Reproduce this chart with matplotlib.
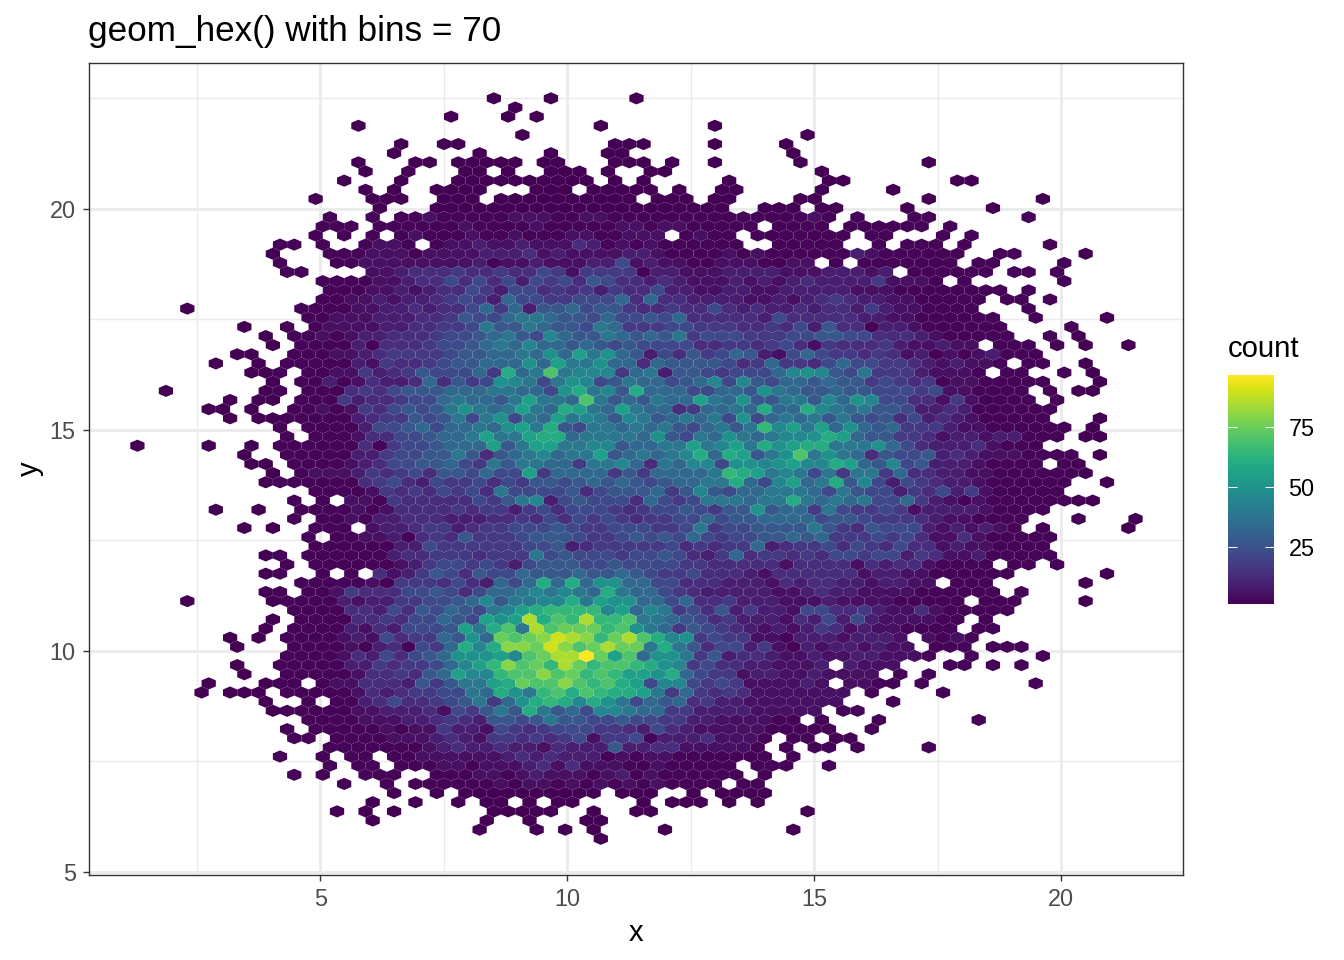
import numpy as np
import matplotlib
matplotlib.use("Agg")
import matplotlib.pyplot as plt

plt.rcParams['font.family'] = ['Liberation Sans', 'DejaVu Sans']

TITLE = "geom_hex() with bins = 70"
X_TICKS = [5, 10, 15, 20]
Y_TICKS = [5, 10, 15, 20]
X_MINOR = [2.5, 7.5, 12.5, 17.5]
Y_MINOR = [7.5, 12.5, 17.5, 22.5]
LEGEND_TICKS = [25, 50, 75]

# hexagon lattice
X_FIRST, X_STEP = 1.30, 0.2887   # centre of column 0 and column spacing
Y_TOP, Y_STEP = 22.50, 0.2068    # centre of row 0 and row spacing (going down)
COUNT_MIN, COUNT_MAX = 1, 97

# occupied columns in each hexagon row (row 0 is the top one)
OCCUPIED = [
    "25,29,35", "26", "22,26,28", "15,32,40", "27,47",
    "18,21,22,33,34,35,40,45", "18,24,29,33,34,46",
    "15,19,20,22-26,28,29,33,34,35,37,40,46,55",
    "16,19,23,24,26,29,30,31,33,36,37,48",
    "14,18,22-31,33,35,41,48,49,57,58",
    "16,18,21-24,28,29,30,32-36,38,41,42,48,53",
    "12,16,17,18,21,22,23,25-34,36,37,38,40,41,46,47,55,63",
    "17,21-41,44,45,46,48,49,54,60",
    "13,16,18-48,50,54,55,62",
    "13,14,15,17-43,45-48,50-55,57",
    "12,14,16,18-36,38-41,43-49,51,52,56,58",
    "10,11,13,16-19,21-42,45-49,52,54,55,56,58,64",
    "9,13-57,60,61,66",
    "10,14,15,16-47,49,51-57,59,60,65",
    "10,11,16-52,54-59,61,62,64",
    "13-56,58,65",
    "13-60,62",
    "13-59,61,62,64",
    "3,11-58,62",
    "12-60,63,68",
    "7,10,12-60,65",
    "9,11-61,64,66",
    "9,11-58,60,61,62,64,66,69",
    "7,8,11-63",
    "5,8,10-60,62,63,66",
    "8,9,10,12-59,61,62,65,67",
    "9,11-63,67",
    "2,9,10,12-62,64,66,67",
    "6,8,9,11-62,64",
    "5,6,8,11-64",
    "6,8-63,67",
    "10,12-65,67",
    "10,12-64,66,67",
    "0,5,8,10-63",
    "7,10-65,67",
    "8,9,11-63,65,66",
    "9,11-66",
    "9-65,68",
    "12-64",
    "11,13,15-67",
    "5,8,11-63",
    "11,13-62,66,70",
    "7,9,12,13,14,16-61,63,69",
    "12,14-64",
    "12-63",
    "9,10,12-64",
    "10,12-59,61,62,64",
    "9,10,13,15,17-61,68",
    "11-55,57,58,59,66",
    "9,10,12-60,62",
    "3,9-57,59,60,61,66",
    "11-61",
    "9,11-57,59",
    "9,11-57,59,60",
    "6,8,10-53,55-58",
    "7,11-54,56,57,58,60,61,62",
    "10-55,58,63",
    "7,10-48,50-53,57,58,60,62",
    "7,10-51,53,55",
    "5,9,10,11,13-48,50-53,55,63",
    "4,6,7,8,10-49,51,56",
    "9,12,14-49,53",
    "9-47,49,50",
    "12-46,48,52,59",
    "10,12-48,51",
    "11,12,14-44,46,47,49,50",
    "13-43,45,47,48,50,55",
    "10,13,15,16,18-44,46",
    "13,15,16,18-41,43,44,45,48",
    "11,13,16,17,18,21-42,44",
    "14,17,19-40,42,43",
    "18,21,23-32,34,35,36,39,41-44",
    "16,19,22,24,25,27,29,30,35,37,38,39,41,43",
    "14,16,18,25-29,32,35,36,47",
    "16,24,27,31,32",
    "24,28,30,32,37,46",
    "32",
]

# count level of columns 10 to 65 (base 36) per row;
# rows and columns not listed hold the smallest counts
LEVEL_FIRST_COLUMN = 10
COUNT_OF_LEVEL = [2, 5, 9, 13, 17, 22, 27, 33, 39, 45, 50, 55, 60, 65, 70, 75, 80, 85, 90, 97]
LEVELS = {
    13: "0000000000 1000001110 0110000000 0000000100 0000000000 000000",
    14: "0000000000 0001000010 0000110110 0000000000 0000000000 000000",
    15: "0000000001 0001001000 1100111001 0000000000 0000000000 000000",
    16: "0000000110 1011211211 1320101000 0000000000 0000000000 000000",
    17: "0000001110 1111222312 1111221000 0101000000 2100000000 000000",
    18: "0000001111 1111201121 1122512110 0111001100 0000000000 000000",
    19: "0000001123 3343343354 1444402211 1222211122 2120000000 000000",
    20: "0000000112 3353535254 5365332321 1121212322 2241110000 000000",
    21: "0000001121 2335425534 3424335221 1221122222 1110000000 000000",
    22: "0000011212 2345427554 4555737332 2221121234 3221100000 000000",
    23: "0000011223 2335747266 7566433433 5323223233 2421100000 000000",
    24: "0000111222 3346557887 6657556573 3333253333 3221100000 000000",
    25: "0001111223 3445866876 6587444554 4433435263 3022100000 000000",
    26: "0001012233 3455678659 7668767684 5554445566 5533321000 000000",
    27: "0000020333 4556787977 6765655553 3443453143 3342112110 000000",
    28: "0000112344 445667787a 7b8a762536 4576215754 4343120101 200000",
    29: "0000021433 4566777a7b 88a7737666 6534744357 5544321211 000000",
    30: "0000114234 655574c78e 8999478266 5455579a96 5844421110 000000",
    31: "0002013223 73645a9858 a956877567 9596577676 6454340110 000000",
    32: "0000034356 6677788775 ac896c7775 5776a87667 6655545110 000000",
    33: "0000423345 5787768b88 7e8676877b 87a6688697 a955331410 000000",
    34: "0001014356 568a878b87 cb87b87734 7787c77c98 7866522320 000000",
    35: "0000023446 56858a587b 8986986787 85a5787868 6563523210 000000",
    36: "0000002556 757787ab8c 6588787865 7868d9b8b7 a767444211 000000",
    37: "0000013355 6778b88bcc 788887a658 7a87899acb 7664431221 220000",
    38: "0000003045 56777b68bb 889967788b 89b8cabcc8 88a7532223 100000",
    39: "0000022455 6686367897 88b678789c 7cb68ae8a8 7365562321 110000",
    40: "0000012355 6675486887 7488973879 95aa9ab99c b769562221 000000",
    41: "0011124345 3665755b47 7774647777 8dcb898584 8847332211 000000",
    42: "0000003453 2544535466 5676765677 88c759b78c 6952543221 000000",
    43: "0000001434 3545385555 6356667469 6577888758 6552435241 000000",
    44: "0000011043 3333546892 5655537545 888788c878 7855742101 000000",
    45: "0000010133 3343442453 5554345565 466a677485 4454122221 000000",
    46: "0000010223 3322233435 3545434455 7566777756 6544432110 000000",
    47: "0000001223 4423445556 5445554458 4556666864 3655521212 100000",
    48: "0000001120 3436444566 6544565657 5455667674 4454531131 000000",
    49: "0000000022 5444444556 2344444534 3447234453 5435331211 000000",
    50: "0000000023 3444344485 6555455653 2473443435 5455243112 000000",
    51: "0000000012 4554542566 6556555544 3333313333 1323310000 000000",
    52: "0000000312 4653655766 6766765445 3332133333 3122110000 000000",
    53: "0000001044 43532757c7 c7aa775533 3222132332 2122110000 000000",
    54: "0000143335 5653577898 987c877543 2222211232 2111100000 000000",
    55: "0000212244 5567968899 c8baa77573 3422211121 1110000000 000000",
    56: "0000033253 6576589bcd ddd9b79845 3624221553 3421131000 000000",
    57: "0000033435 5765babhce dhdde88765 3422213252 5211110000 000000",
    58: "0000021325 556b8ce8he fffdea8746 5432121243 1211000000 000000",
    59: "0000121534 476a7fefgi hgdfhec9a4 5441102221 2221110100 000000",
    60: "0000010230 547c9cggfi gefhff8c86 3552410212 2121100000 000000",
    61: "0000132535 67aaab9efh hjfbe7aa84 6233211211 2211100000 000000",
    62: "0000022434 4579bdgefd hfdeedca94 5332211120 2111000000 000000",
    63: "0000013343 67b99deege fdedbbac75 4412211211 1100000000 000000",
    64: "0000113332 64688bcfee gedecb5995 4541111211 1100000000 000000",
    65: "0000013234 45587ca8de cedccb8474 3431111111 1000000000 000000",
    66: "0000002353 3456847acd c9ca857673 4221111111 0000000000 000000",
    67: "0000011222 3154686c86 7599877442 2221111110 0000000000 000000",
    68: "0000001112 2343266568 6655655442 2111100000 0000000000 000000",
    69: "0000000101 1422154345 5544325321 1111000000 0000000000 000000",
    70: "0000000011 1232144343 4514450222 3111000000 0000000000 000000",
    71: "0000000000 1232232213 2226223311 1110000000 0000000000 000000",
    72: "0000000000 1111112323 2220101100 0000000000 0000000000 000000",
    73: "0000000000 0110111231 3111001000 0000000000 0000000000 000000",
    74: "0000000000 0000110121 1101201000 0000000000 0000000000 000000",
    75: "0000000000 0000010110 1010101000 0000000000 0000000000 000000",
}


def columns_of(spec):
    cols = []
    for part in spec.split(","):
        if "-" in part:
            a, b = part.split("-")
            cols.extend(range(int(a), int(b) + 1))
        else:
            cols.append(int(part))
    return cols


xs, ys, counts = [], [], []
for row, spec in enumerate(OCCUPIED):
    text = LEVELS.get(row, "").replace(" ", "")
    for col in columns_of(spec):
        pos = col - LEVEL_FIRST_COLUMN
        inside = 0 <= pos < len(text)
        xs.append(X_FIRST + X_STEP * (col + (0.5 if row % 2 else 0.0)))
        ys.append(Y_TOP - Y_STEP * row)
        counts.append(COUNT_OF_LEVEL[int(text[pos], 36)] if inside else COUNT_MIN)

W, H = 1344, 960
fig = plt.figure(figsize=(W / 100, H / 100), dpi=100, facecolor="white")
L, R, T, B = 89, 1183, 63, 875
ax = fig.add_axes([L / W, 1 - B / H, (R - L) / W, (B - T) / H])

ax.set_axisbelow(True)
ax.set_xticks(X_TICKS)
ax.set_yticks(Y_TICKS)
ax.set_xticks(X_MINOR, minor=True)
ax.set_yticks(Y_MINOR, minor=True)
ax.grid(True, which="major", color="#EBEBEB", lw=2.05, zorder=0)
ax.grid(True, which="minor", color="#EBEBEB", lw=1.03, zorder=0)

hb = ax.hexbin(
    xs, ys, C=counts, reduce_C_function=np.mean,
    gridsize=(70, 41),
    extent=(X_FIRST, X_FIRST + 70 * X_STEP, Y_TOP - 82 * Y_STEP, Y_TOP),
    cmap="viridis", vmin=COUNT_MIN, vmax=COUNT_MAX,
    linewidths=0, edgecolors="none", zorder=2,
)

ax.set_xlim(0.32, 22.47)
ax.set_ylim(4.93, 23.30)
ax.tick_params(axis="both", which="major", length=4.6, width=1.0, color="#333333",
               labelcolor="#4D4D4D", labelsize=16.9, pad=5)
ax.tick_params(axis="both", which="minor", length=0)
for s in ax.spines.values():
    s.set_color("#333333")
    s.set_linewidth(1.0)
ax.set_xlabel("x", fontsize=21.1, labelpad=5.7)
ax.set_ylabel("y", fontsize=21.1, labelpad=4)

fig.text(88 / W, 1 - 41 / H, TITLE, fontsize=25.3, color="black", ha="left", va="baseline")

cax = fig.add_axes([1228 / W, 1 - 604 / H, 46 / W, 229 / H])
cb = fig.colorbar(hb, cax=cax)
cb.outline.set_visible(False)
cb.set_ticks(LEGEND_TICKS)
cax.tick_params(axis="y", which="major", direction="in", left=True, right=True,
                length=6.6, width=0.75, color="white", labelcolor="black",
                labelsize=16.9, pad=10.5)
fig.text(1228 / W, 1 - 357 / H, "count", fontsize=21.1, color="black", ha="left", va="baseline")

fig.savefig("out.png", dpi=100)
